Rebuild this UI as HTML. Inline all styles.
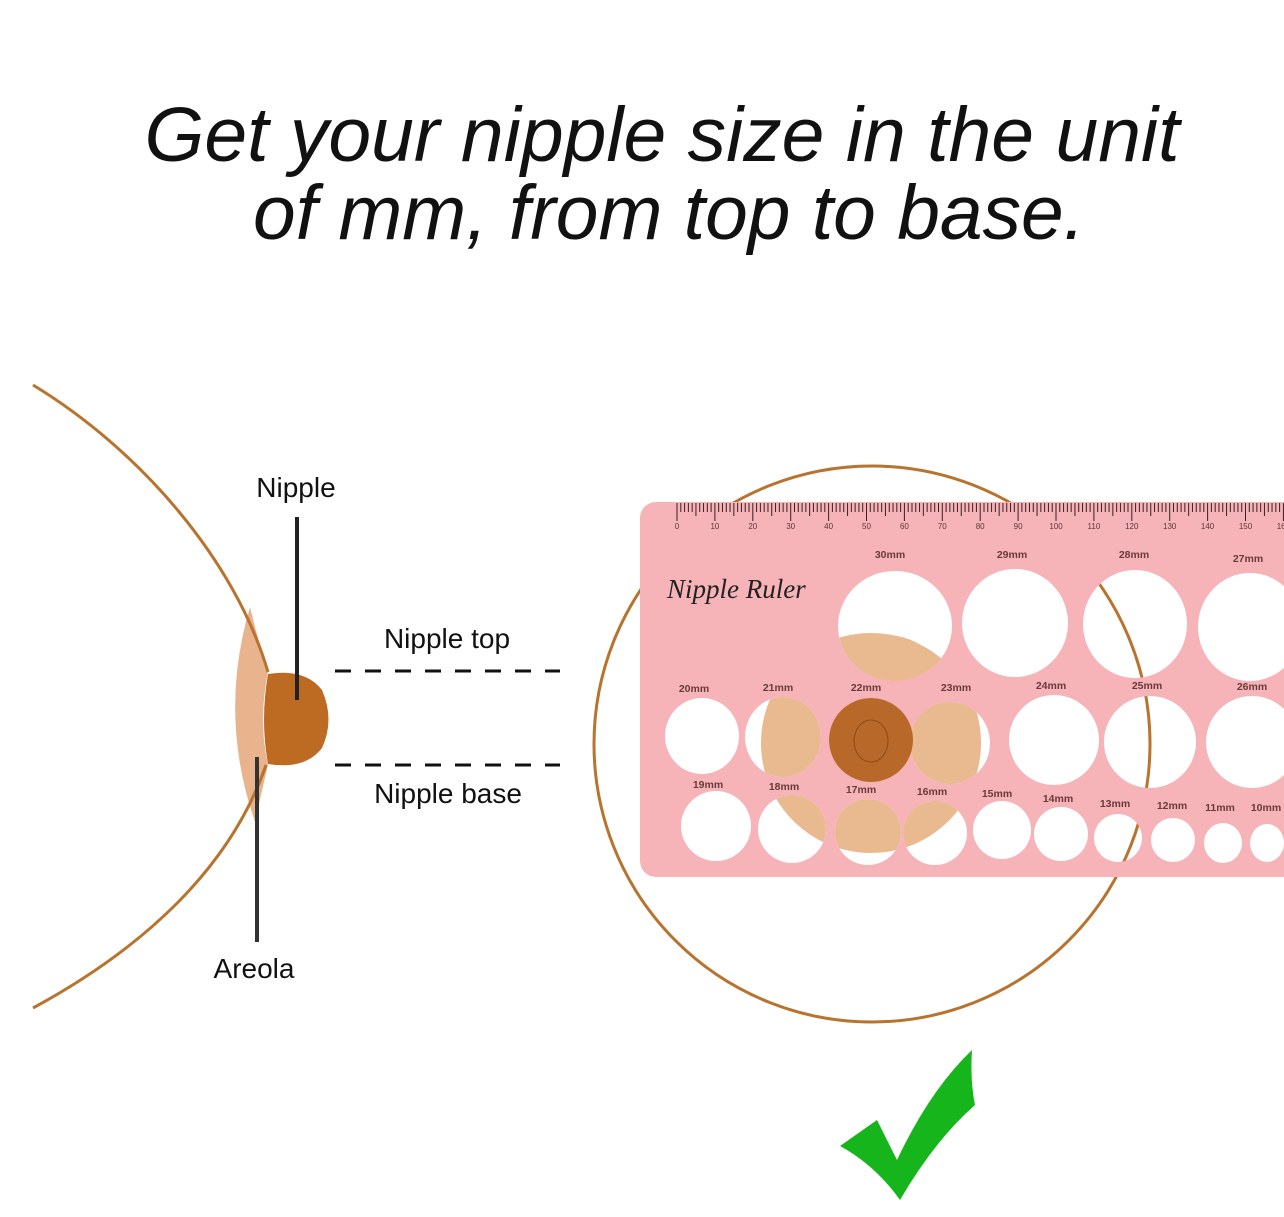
<!DOCTYPE html>
<html><head><meta charset="utf-8"><style>
html,body{margin:0;padding:0;background:#fff;}
svg{display:block;}
</style></head><body>
<svg id="s" width="1284" height="1217" viewBox="0 0 1284 1217" xmlns="http://www.w3.org/2000/svg" font-family="Liberation Sans, sans-serif">
<rect width="1284" height="1217" fill="#fff"/>
<text x="662" y="161" text-anchor="middle" font-size="77" font-style="italic" fill="#111" textLength="1035" lengthAdjust="spacingAndGlyphs">Get your nipple size in the unit</text>
<text x="669" y="239" text-anchor="middle" font-size="77" font-style="italic" fill="#111" textLength="832" lengthAdjust="spacingAndGlyphs">of mm, from top to base.</text>

<!-- left breast -->
<path d="M250 607 Q218 715 255 822 Q262 790 268 765 Q258 720 268 672 Q258 640 250 607Z" fill="#e8b38d"/>
<path d="M33 385 C140 450 235 560 268 672" fill="none" stroke="#b8732e" stroke-width="3"/>
<path d="M266 765 C230 870 140 950 33 1008" fill="none" stroke="#b8732e" stroke-width="3"/>
<path d="M268 674 Q305 668 322 690 Q335 720 322 748 Q305 770 268 764 Q260 720 268 674Z" fill="#bd6a22"/>
<line x1="297" y1="517" x2="297" y2="700" stroke="#222" stroke-width="4"/>
<line x1="257" y1="757" x2="257" y2="942" stroke="#333" stroke-width="4"/>
<text x="296" y="497" text-anchor="middle" font-size="28" fill="#111">Nipple</text>
<text x="447" y="648" text-anchor="middle" font-size="28" fill="#111">Nipple top</text>
<text x="448" y="803" text-anchor="middle" font-size="28" fill="#111">Nipple base</text>
<text x="254" y="978" text-anchor="middle" font-size="28" fill="#111">Areola</text>
<line x1="335" y1="671" x2="560" y2="671" stroke="#111" stroke-width="3" stroke-dasharray="16 14"/>
<line x1="335" y1="765" x2="560" y2="765" stroke="#111" stroke-width="3" stroke-dasharray="16 14"/>

<!-- big circle -->
<circle cx="872" cy="744" r="278" fill="none" stroke="#b8732e" stroke-width="3"/>
<defs>
<clipPath id="holes">
<ellipse cx="895" cy="626" rx="57" ry="55"/><ellipse cx="783" cy="737" rx="38" ry="40"/><ellipse cx="950" cy="743" rx="40" ry="41"/>
<ellipse cx="792" cy="829" rx="34" ry="34"/><ellipse cx="868" cy="832" rx="33" ry="33"/><ellipse cx="935" cy="833" rx="32" ry="32"/>
</clipPath>
<mask id="m"><rect x="0" y="0" width="1284" height="1217" fill="#fff"/>
<g fill="#000">
<ellipse cx="895" cy="626" rx="57" ry="55"/><ellipse cx="1015" cy="623" rx="53" ry="54"/><ellipse cx="1135" cy="624" rx="52" ry="54"/><ellipse cx="1250" cy="627" rx="52" ry="54"/>
<ellipse cx="702" cy="736" rx="37" ry="38"/><ellipse cx="783" cy="737" rx="38" ry="40"/><ellipse cx="871" cy="740" rx="42" ry="42"/><ellipse cx="950" cy="743" rx="40" ry="41"/><ellipse cx="1054" cy="740" rx="45" ry="45"/><ellipse cx="1150" cy="742" rx="46" ry="46"/><ellipse cx="1252" cy="742" rx="46" ry="46"/>
<ellipse cx="716" cy="826" rx="35" ry="35"/><ellipse cx="792" cy="829" rx="34" ry="34"/><ellipse cx="868" cy="832" rx="33" ry="33"/><ellipse cx="935" cy="833" rx="32" ry="32"/><ellipse cx="1002" cy="830" rx="29" ry="29"/><ellipse cx="1061" cy="834" rx="27" ry="27"/><ellipse cx="1118" cy="838" rx="24" ry="24"/><ellipse cx="1173" cy="840" rx="22" ry="22"/><ellipse cx="1223" cy="843" rx="19" ry="20"/><ellipse cx="1267" cy="843" rx="17" ry="19"/>
</g></mask>
</defs>
<g clip-path="url(#holes)">
<circle cx="871" cy="743" r="110" fill="#e9b98f"/>
<ellipse cx="885" cy="690" rx="62" ry="55" fill="#e9b98f"/>
</g>
<rect x="640" y="502" width="700" height="375" rx="16" fill="#f6b3b8" mask="url(#m)"/>
<circle cx="871" cy="740" r="42" fill="#b8692a"/>
<ellipse cx="871" cy="741" rx="17" ry="21" fill="none" stroke="#8a4a18" stroke-width="1"/>
<g id="ticks" stroke="#3a2020" stroke-width="1"></g>
<g id="nums" font-size="8" fill="#5a3838"></g>
<text x="667" y="598" font-family="Liberation Serif, serif" font-style="italic" font-size="27" fill="#222">Nipple Ruler</text>
<g font-size="10.5" font-weight="bold" fill="#6a3a3a" text-anchor="middle">
<text x="890" y="558">30mm</text><text x="1012" y="558">29mm</text><text x="1134" y="558">28mm</text><text x="1248" y="562">27mm</text>
<text x="694" y="692">20mm</text><text x="778" y="691">21mm</text><text x="866" y="691">22mm</text><text x="956" y="691">23mm</text><text x="1051" y="689">24mm</text><text x="1147" y="689">25mm</text><text x="1252" y="690">26mm</text>
<text x="708" y="788">19mm</text><text x="784" y="790">18mm</text><text x="861" y="793">17mm</text><text x="932" y="795">16mm</text><text x="997" y="797">15mm</text><text x="1058" y="802">14mm</text><text x="1115" y="807">13mm</text><text x="1172" y="809">12mm</text><text x="1220" y="811">11mm</text><text x="1266" y="811">10mm</text>
</g>
<path d="M840 1146 L877 1120 L897 1160 Q930 1090 972 1050 Q970 1080 975 1105 Q935 1140 900 1200 Q875 1165 840 1146Z" fill="#17b51c"/>
</svg>
<script>
var t=document.getElementById('ticks'),n=document.getElementById('nums'),ns='http://www.w3.org/2000/svg';
for(var i=0;i<=160;i++){var x=677+i*3.79;if(x>1284)break;var l=document.createElementNS(ns,'line');var h=i%10==0?18:(i%5==0?13:9);
l.setAttribute('x1',x);l.setAttribute('x2',x);l.setAttribute('y1',503);l.setAttribute('y2',503+h);t.appendChild(l);
if(i%10==0){var tx=document.createElementNS(ns,'text');tx.setAttribute('x',x);tx.setAttribute('y',529);tx.setAttribute('text-anchor','middle');tx.textContent=i;n.appendChild(tx);}}
</script>
</body></html>
